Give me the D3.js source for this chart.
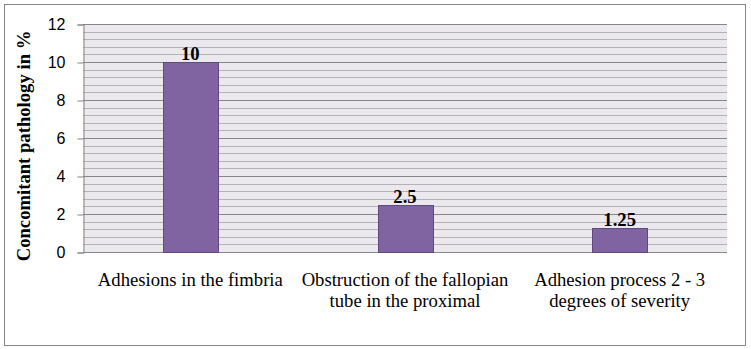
<!DOCTYPE html>
<html>
<head>
<meta charset="utf-8">
<script src="https://cdn.jsdelivr.net/npm/d3@7"></script>
<style>
  body { margin: 0; background: #fff; }
</style>
</head>
<body>
<div id="chart"></div>
<script>
// chart data
const categories = [
  ['Adhesions in the fimbria'],
  ['Obstruction of the fallopian', 'tube in the proximal'],
  ['Adhesion process 2 - 3', 'degrees of severity']
]
const values = [10, 2.5, 1.25]
const valueLabels = ['10', '2.5', '1.25']
const yTicks = [0, 2, 4, 6, 8, 10, 12]
const yTitle = 'Concomitant pathology in %'

const W = 751, H = 349
const plot = { left: 83, top: 24, right: 727, bottom: 252 }
const serif = '"Liberation Serif", "Times New Roman", serif'

const svg = d3.select('#chart').append('svg')
  .attr('width', W).attr('height', H)

// outer frame
svg.append('rect')
  .attr('x', 4.5).attr('y', 4.5)
  .attr('width', 741).attr('height', 341)
  .attr('fill', '#fff').attr('stroke', '#868686')

const x = d3.scaleBand()
  .domain(d3.range(categories.length))
  .range([plot.left, plot.right])
  .paddingInner(0.744).paddingOuter(0.372)

const y = d3.scaleLinear().domain([0, 12]).range([plot.bottom, plot.top])

// plot background
svg.append('rect')
  .attr('x', plot.left).attr('y', plot.top)
  .attr('width', plot.right - plot.left).attr('height', plot.bottom - plot.top)
  .attr('fill', '#EBE9EE')

// minor grid every 0.4
const minor = d3.range(0, 12.001, 0.4).filter(v => Math.abs(v / 2 - Math.round(v / 2)) > 0.01)
svg.append('g').selectAll('line').data(minor).join('line')
  .attr('x1', plot.left).attr('x2', plot.right)
  .attr('y1', d => Math.round(y(d)) + 0.5).attr('y2', d => Math.round(y(d)) + 0.5)
  .attr('stroke', '#B4B2B6')

// major grid
svg.append('g').selectAll('line').data(yTicks.slice(1)).join('line')
  .attr('x1', plot.left).attr('x2', plot.right)
  .attr('y1', d => Math.round(y(d)) + 0.5).attr('y2', d => Math.round(y(d)) + 0.5)
  .attr('stroke', '#868686')

// y axis
const yAxis = svg.append('g')
  .attr('transform', `translate(${plot.left + 0.5},0.5)`)
  .call(d3.axisLeft(y).tickValues(yTicks).tickSize(6).tickPadding(12))
yAxis.selectAll('.domain, .tick line').attr('stroke', '#868686')
yAxis.selectAll('.tick text')
  .style('font-family', '"Liberation Sans", Arial, sans-serif')
  .style('font-size', '16px').attr('fill', '#000')

// x baseline
svg.append('line')
  .attr('x1', plot.left).attr('x2', plot.right)
  .attr('y1', plot.bottom + 0.5).attr('y2', plot.bottom + 0.5)
  .attr('stroke', '#868686')

// bars
svg.append('g').selectAll('rect').data(values).join('rect')
  .attr('x', (d, i) => Math.round(x(i)) + 0.5)
  .attr('y', d => Math.round(y(d)) + 0.5)
  .attr('width', Math.round(x.bandwidth()))
  .attr('height', d => plot.bottom - Math.round(y(d)))
  .attr('fill', '#8064A2').attr('stroke', '#5E4A80')

// value labels
svg.append('g').selectAll('text').data(values).join('text')
  .attr('x', (d, i) => x(i) + x.bandwidth() / 2)
  .attr('y', d => y(d) - 2)
  .attr('text-anchor', 'middle')
  .style('font-family', serif)
  .style('font-weight', 'bold').style('font-size', '18.67px')
  .text((d, i) => valueLabels[i])

// category labels
const cat = svg.append('g').selectAll('text').data(categories).join('text')
  .attr('text-anchor', 'middle')
  .style('font-family', serif)
  .style('font-size', '18.67px')
cat.each(function (lines, i) {
  d3.select(this).selectAll('tspan').data(lines).join('tspan')
    .attr('x', x(i) + x.bandwidth() / 2)
    .attr('y', (d, j) => 286 + j * 21)
    .text(d => d)
})

// y title
svg.append('text')
  .attr('transform', `translate(30,146) rotate(-90)`)
  .attr('text-anchor', 'middle')
  .style('font-family', serif)
  .style('font-weight', 'bold').style('font-size', '18.67px')
  .text(yTitle)
</script>
</body>
</html>
